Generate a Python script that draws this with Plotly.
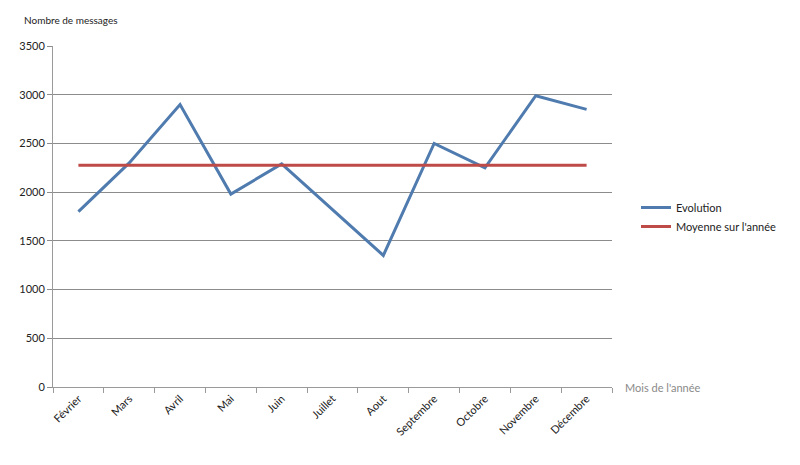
import plotly.graph_objects as go

months = ["Février", "Mars", "Avril", "Mai", "Juin", "Juillet", "Aout",
          "Septembre", "Octobre", "Novembre", "Décembre"]
evolution = [1800, 2300, 2900, 1980, 2290, 1820, 1350, 2500, 2250, 2990, 2850]
moyenne = [2275, 2275, 2275, 2275, 2275, 2275, 2275, 2275, 2275, 2275, 2275]
y_ticks = [0, 500, 1000, 1500, 2000, 2500, 3000, 3500]

FONT = "Lato, Open Sans, sans-serif"

fig = go.Figure()
fig.add_trace(go.Scatter(x=months, y=evolution, mode="lines", name="Evolution",
                         line=dict(color="#4F7BAF", width=3)))
fig.add_trace(go.Scatter(x=months, y=moyenne, mode="lines", name="Moyenne sur l'année",
                         line=dict(color="#BE4B48", width=3)))

L, R, T, B = 53, 612, 46, 387
W, H = 800, 465
pw, ph = R - L, B - T

fig.update_layout(
    width=W, height=H,
    margin=dict(l=L, r=W - R, t=T, b=H - B, pad=0),
    paper_bgcolor="white", plot_bgcolor="white",
    font=dict(family=FONT, size=11, color="#222"),
    showlegend=True,
    legend=dict(x=(636 - L) / pw, y=(387 - 217) / ph, xanchor="left", yanchor="middle",
                font=dict(size=11, color="#222"), bgcolor="rgba(0,0,0,0)",
                itemwidth=30),
    xaxis=dict(type="category", range=[-0.5, 10.5], tickangle=-45,
               showline=True, linecolor="#9a9a9a", linewidth=1,
               ticks="outside", ticklen=5, tickcolor="#9a9a9a", tickson="boundaries",
               showgrid=False, tickfont=dict(size=11, color="#222")),
    yaxis=dict(range=[0, 3500], tickvals=y_ticks, showgrid=True, gridcolor="#8c8c8c",
               gridwidth=1, showline=True, linecolor="#9a9a9a", linewidth=1,
               ticks="outside", ticklen=5, tickcolor="#8c8c8c", zeroline=False,
               tickfont=dict(size=11, color="#222")),
    annotations=[
        dict(text="Nombre de messages", xref="paper", yref="paper",
             x=(22 - L) / pw, y=(B - 20) / ph, xanchor="left", yanchor="middle",
             showarrow=False, font=dict(size=10, color="#222")),
        dict(text="Mois de l'année", xref="paper", yref="paper",
             x=(623 - L) / pw, y=0, xanchor="left", yanchor="middle",
             showarrow=False, font=dict(size=11, color="#8a8a8a")),
    ],
)

fig.write_html("out.html")
